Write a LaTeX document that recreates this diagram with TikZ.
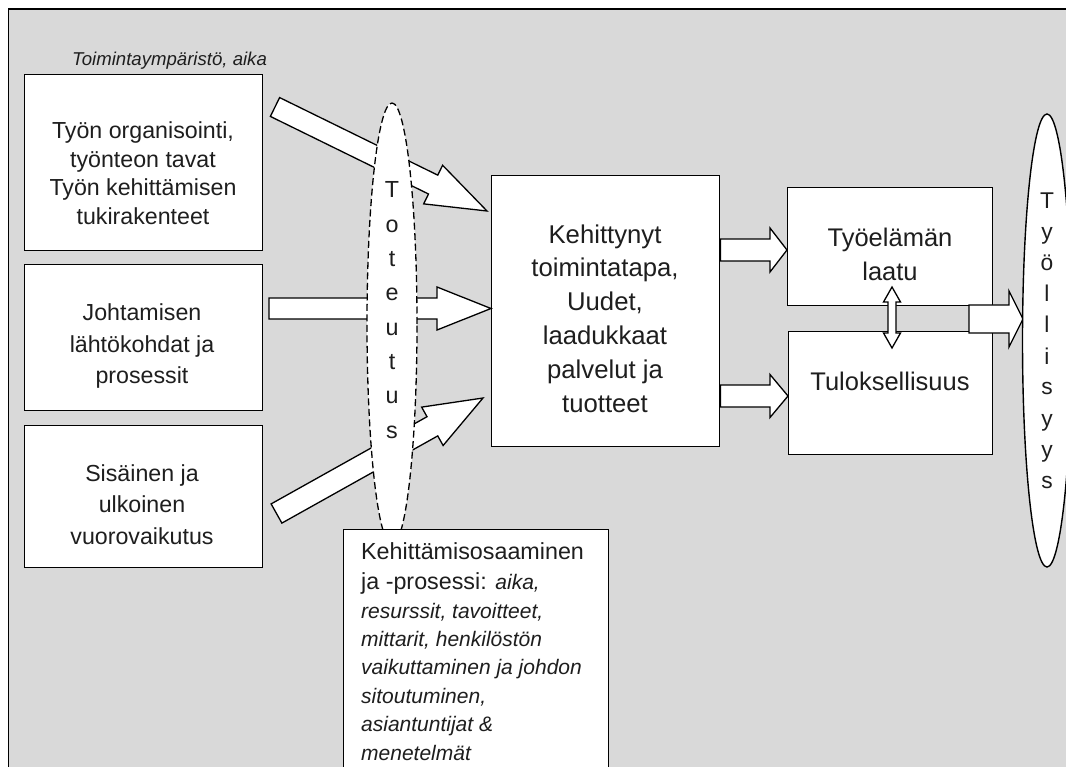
\documentclass[tikz,border=0pt]{standalone}
\usepackage{fontspec}
\setmainfont{Liberation Sans}
\usetikzlibrary{calc,shapes.geometric}
\definecolor{bggray}{RGB}{217,217,217}
\definecolor{inkcol}{RGB}{30,30,30}
\newcommand\fsz[2]{\fontsize{#1}{#2}\selectfont}
\newcommand\itl{\fsz{21}{28.4}\itshape}
\tikzset{
  box/.style={draw=black, fill=white, line width=1.4pt, inner sep=0pt, anchor=north west},
  blk/.style={draw=black, fill=white, line width=1.3pt, line join=miter},
  txt/.style={inner sep=0pt, align=center, anchor=base, text=inkcol},
  letter/.style={inner sep=0pt, anchor=base, text=inkcol},
}
% block arrow: tail, tip, shaft half width, head half width, head length
\newcommand\blockarrow[5]{%
  \draw[blk] ($(#1)!#3!90:(#2)$)
    -- ($(#2)!#5!(#1)!#3!-90:(#1)$)
    -- ($(#2)!#5!(#1)!#4!-90:(#1)$)
    -- (#2)
    -- ($(#2)!#5!(#1)!#4!90:(#1)$)
    -- ($(#2)!#5!(#1)!#3!90:(#1)$)
    -- ($(#1)!#3!-90:(#2)$) -- cycle;}
% double block arrow: end a, end b, shaft half width, head half width, head length
\newcommand\dblarrow[5]{%
  \draw[blk] (#1)
    -- ($(#1)!#5!(#2)!#4!90:(#2)$)
    -- ($(#1)!#5!(#2)!#3!90:(#2)$)
    -- ($(#2)!#5!(#1)!#3!-90:(#1)$)
    -- ($(#2)!#5!(#1)!#4!-90:(#1)$)
    -- (#2)
    -- ($(#2)!#5!(#1)!#4!90:(#1)$)
    -- ($(#2)!#5!(#1)!#3!90:(#1)$)
    -- ($(#1)!#5!(#2)!#3!-90:(#2)$)
    -- ($(#1)!#5!(#2)!#4!-90:(#2)$) -- cycle;}

\begin{document}
\begin{tikzpicture}[x=1pt,y=-1pt]
\path[use as bounding box] (0,0) rectangle (1066,767);
\clip (0,0) rectangle (1066,767);
\fill[white] (0,0) rectangle (1066,767);
% outer frame
\draw[fill=bggray, line width=1.5pt] (8.5,9) rectangle (1100,800);

% boxes
\node[box, minimum width=238pt, minimum height=176pt] (b1) at (24,74) {};
\node[box, minimum width=238pt, minimum height=146pt] (b2) at (24,264) {};
\node[box, minimum width=238pt, minimum height=142pt] (b3) at (24,425) {};
\node[box, minimum width=228pt, minimum height=271pt] (c) at (491,175) {};
\node[box, minimum width=205pt, minimum height=118pt] (tyo) at (787,187) {};
\node[box, minimum width=204pt, minimum height=123pt] (tul) at (788,331) {};

% arrow end points
\coordinate (a1t) at (275,107);   \coordinate (a1h) at (487,211);
\coordinate (a2t) at (269,308.5); \coordinate (a2h) at (a2t -| c.west);
\coordinate (a3t) at (276.5,513.5); \coordinate (a3h) at (483,398);
\coordinate (a4t) at (c.east |- 0,250); \coordinate (a4h) at (a4t -| tyo.west);
\coordinate (a5t) at (c.east |- 0,396); \coordinate (a5h) at (a5t -| tul.west);
\coordinate (a6t) at (969,319);   \coordinate (a6h) at (1023,319);
\coordinate (d1) at (892,287);    \coordinate (d2) at (892,348);

\blockarrow{a1t}{a1h}{10.5pt}{21.5pt}{60pt}
\blockarrow{a2t}{a2h}{10.5pt}{21.5pt}{54pt}
\blockarrow{a3t}{a3h}{11pt}{22pt}{58pt}
\blockarrow{a4t}{a4h}{11pt}{22pt}{17pt}
\blockarrow{a5t}{a5h}{11pt}{21.5pt}{18pt}
\blockarrow{a6t}{a6h}{14pt}{28pt}{14pt}
\dblarrow{d1}{d2}{4pt}{8.5pt}{15pt}

% Toteutus ellipse (dashed)
\node[ellipse, draw=black, fill=white, line width=1.3pt, dash pattern=on 7pt off 3.5pt,
      minimum width=50pt, minimum height=442pt, inner sep=0pt] (tot) at (392,324) {};
\foreach \c [count=\i from 0] in {T,o,t,e,u,t,u,s}
  \node[letter, font=\fsz{23.3}{28}] (tl\i) at (392,{198+34.3*\i}) {\c};

% bottom box
\node[box, minimum width=265pt, minimum height=271pt] (kb) at (343,529) {};

% Tyollisyys ellipse
\node[ellipse, draw=black, fill=white, line width=1.4pt,
      minimum width=49pt, minimum height=453pt, inner sep=0pt] (tys) at (1047,340.5) {};
\foreach \c [count=\i from 0] in {T,y,ö,l,l,i,s,y,y,s}
  \node[letter, font=\fsz{22.8}{28}] (yl\i) at (1047,{209+31*\i}) {\c};

% texts (multi-line nodes: base anchor = baseline of last line)
\node[inner sep=0pt, anchor=base west, text=inkcol, font=\fsz{18.6}{20}\itshape] (env) at (72,66) {Toimintaympäristö, aika};
\node[txt, font=\fsz{23.2}{28.5}] (t1) at (143,224.5) {Työn organisointi,\\työnteon tavat\\Työn kehittämisen\\tukirakenteet};
\node[txt, font=\fsz{23.2}{31.5}] (t2) at (142,384) {Johtamisen\\lähtökohdat ja\\prosessit};
\node[txt, font=\fsz{23.2}{31.5}] (t3) at (142,544) {Sisäinen ja\\ulkoinen\\vuorovaikutus};
\node[txt, font=\fsz{25.7}{33.8}] (tc) at (605,412) {Kehittynyt\\toimintatapa,\\Uudet,\\laadukkaat\\palvelut ja\\tuotteet};
\node[txt, font=\fsz{25.5}{34.5}] (ttyo) at (890,281) {Työelämän\\laatu};
\node[txt, font=\fsz{25.5}{30}] (ttul) at (890,390) {Tuloksellisuus};
\node[inner sep=0pt, anchor=base west, align=left, text=inkcol, font=\fsz{23.3}{28.4}] (tk) at (361,760)
  {Kehittämisosaaminen\\[1.5pt]ja -prosessi: {\itl aika,}\\{\itl resurssit, tavoitteet,}\\{\itl mittarit, henkilöstön}\\{\itl vaikuttaminen ja johdon}\\{\itl sitoutuminen,}\\{\itl asiantuntijat \&}\\{\itl menetelmät}};
\end{tikzpicture}
\end{document}
